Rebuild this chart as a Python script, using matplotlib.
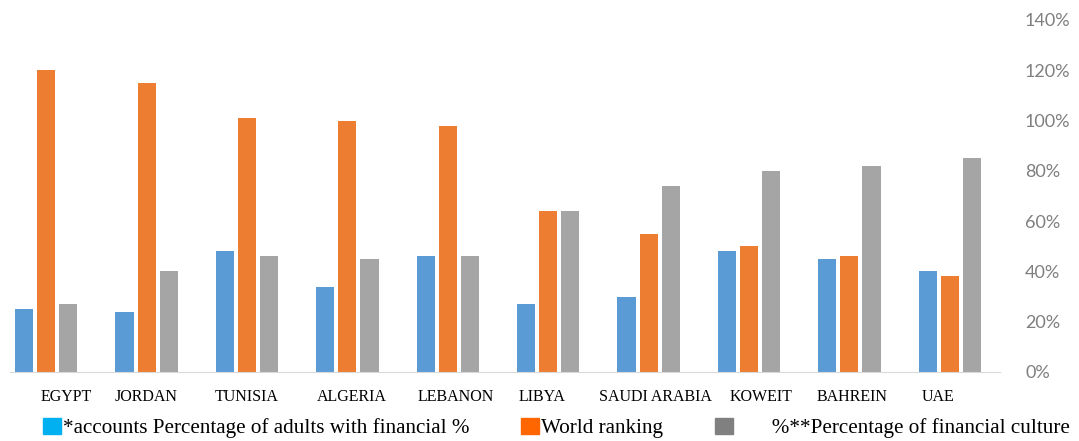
import numpy as np
import matplotlib
matplotlib.use("Agg")
import matplotlib.pyplot as plt
from matplotlib.patches import Patch


#______________________________DATA____________________________________________
countries = ['EGYPT', 'JORDAN', 'TUNISIA', 'ALGERIA', 'LEBANON', 'LIBYA',
             'SAUDI ARABIA', 'KOWEIT', 'BAHREIN', 'UAE']
accounts = [0.25, 0.24, 0.48, 0.34, 0.46, 0.27, 0.30, 0.48, 0.45, 0.40]
world_ranking = [1.20, 1.15, 1.01, 1.00, 0.98, 0.64, 0.55, 0.50, 0.46, 0.38]
fin_culture = [0.27, 0.40, 0.46, 0.45, 0.46, 0.64, 0.74, 0.80, 0.82, 0.85]
yticks = [0, 0.2, 0.4, 0.6, 0.8, 1.0, 1.2, 1.4]
legend_labels = ['*accounts Percentage of adults with financial %',
                 'World ranking',
                 '       %**Percentage of financial culture']


#______________________________PLOT____________________________________________
fig = plt.figure(figsize=(10.79, 4.41), dpi=100)
ax = fig.add_axes([-4/1079, 69/441, 1004/1079, 352/441])

x = np.arange(len(countries))
w = 0.18
ax.bar(x - 0.22, accounts, w, color='#5B9BD5')
ax.bar(x, world_ranking, w, color='#ED7D31')
ax.bar(x + 0.22, fin_culture, w, color='#A5A5A5')

ax.set_xlim(-0.5, len(countries) - 0.5)
ax.set_ylim(0, 1.4)
for s in ['top', 'left', 'right']:
    ax.spines[s].set_visible(False)
ax.spines['bottom'].set_color('#D9D9D9')
ax.spines['bottom'].set_bounds(-0.36, 9.5)

ax.yaxis.tick_right()
ax.set_yticks(yticks)
ax.set_yticklabels(['%d%%' % round(v * 100) for v in yticks],
                   family='Lato', fontsize=13, color='#7F7F7F')
ax.tick_params(axis='y', length=0, pad=18)

# category labels, slightly shifted like in the original
label_shift = [0.2, 0, 0, 0.04, 0.08, -0.06, 0.07, 0.12, 0.03, -0.12]
ax.set_xticks([])
for i, name in enumerate(countries):
    ax.text(x[i] + label_shift[i], -0.07, name, ha='center', va='center',
            family='Liberation Serif', fontsize=11.5, color='black',
            transform=ax.get_xaxis_transform())

handles = [Patch(color='#00B0F0'), Patch(color='#FF6600'), Patch(color='#808080')]
fig.legend(handles, legend_labels, loc='lower left', ncol=3,
           bbox_to_anchor=(32/1079, -8/441), frameon=False, borderpad=0,
           prop={'family': 'Liberation Serif', 'size': 15.2},
           handlelength=0.85, handleheight=0.75, handletextpad=0.1,
           columnspacing=2.45)

fig.savefig('out.png', dpi=100)
